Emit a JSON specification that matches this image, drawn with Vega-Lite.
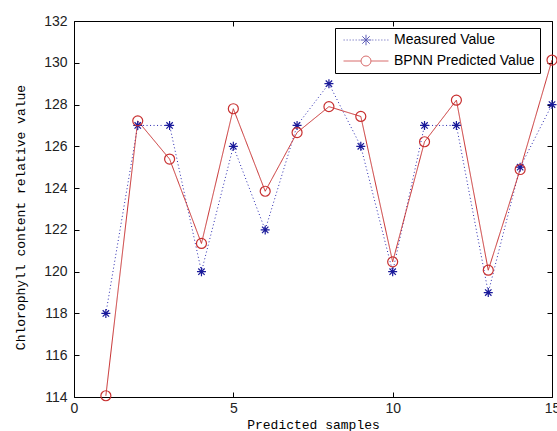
{
  "$schema": "https://vega.github.io/schema/vega-lite/v6.json",
  "width": 478,
  "height": 376,
  "autosize": {"type": "none"},
  "padding": {"left": 74, "top": 21, "right": 5, "bottom": 34},
  "background": "white",
  "config": {
    "view": {"stroke": "black", "strokeWidth": 1},
    "axis": {
      "grid": false,
      "domain": false,
      "ticks": true,
      "tickColor": "black",
      "tickWidth": 1,
      "tickSize": -5,
      "labelFont": "Liberation Sans",
      "labelFontSize": 14,
      "labelColor": "#222222",
      "labelFlush": false,
      "labelOverlap": false,
      "titleFont": "Liberation Mono",
      "titleFontSize": 13,
      "titleFontWeight": "normal",
      "titleColor": "black"
    },
    "legend": {
      "orient": "none",
      "legendX": 261,
      "legendY": 7,
      "padding": 4.5,
      "strokeColor": "black",
      "fillColor": "white",
      "cornerRadius": 0,
      "symbolSize": 196,
      "symbolStrokeWidth": 1,
      "symbolOffset": 19,
      "labelOffset": 20.5,
      "rowPadding": 6,
      "labelFont": "Liberation Sans",
      "labelFontSize": 14,
      "labelColor": "black",
      "labelLimit": 300
    }
  },
  "data": {
    "values": [
      {"sample": 1, "series": "Measured Value", "value": 118},
      {"sample": 2, "series": "Measured Value", "value": 127},
      {"sample": 3, "series": "Measured Value", "value": 127},
      {"sample": 4, "series": "Measured Value", "value": 120},
      {"sample": 5, "series": "Measured Value", "value": 126},
      {"sample": 6, "series": "Measured Value", "value": 122},
      {"sample": 7, "series": "Measured Value", "value": 127},
      {"sample": 8, "series": "Measured Value", "value": 129},
      {"sample": 9, "series": "Measured Value", "value": 126},
      {"sample": 10, "series": "Measured Value", "value": 120},
      {"sample": 11, "series": "Measured Value", "value": 127},
      {"sample": 12, "series": "Measured Value", "value": 127},
      {"sample": 13, "series": "Measured Value", "value": 119},
      {"sample": 14, "series": "Measured Value", "value": 125},
      {"sample": 15, "series": "Measured Value", "value": 128},
      {"sample": 1, "series": "BPNN Predicted Value", "value": 114.06},
      {"sample": 2, "series": "BPNN Predicted Value", "value": 127.22},
      {"sample": 3, "series": "BPNN Predicted Value", "value": 125.39},
      {"sample": 4, "series": "BPNN Predicted Value", "value": 121.35},
      {"sample": 5, "series": "BPNN Predicted Value", "value": 127.8},
      {"sample": 6, "series": "BPNN Predicted Value", "value": 123.85},
      {"sample": 7, "series": "BPNN Predicted Value", "value": 126.66},
      {"sample": 8, "series": "BPNN Predicted Value", "value": 127.9},
      {"sample": 9, "series": "BPNN Predicted Value", "value": 127.43},
      {"sample": 10, "series": "BPNN Predicted Value", "value": 120.47},
      {"sample": 11, "series": "BPNN Predicted Value", "value": 126.22},
      {"sample": 12, "series": "BPNN Predicted Value", "value": 128.21},
      {"sample": 13, "series": "BPNN Predicted Value", "value": 120.07},
      {"sample": 14, "series": "BPNN Predicted Value", "value": 124.89},
      {"sample": 15, "series": "BPNN Predicted Value", "value": 130.13}
    ]
  },
  "layer": [
    {
      "mark": {"type": "line", "strokeWidth": 1},
      "encoding": {
        "x": {"field": "sample", "type": "quantitative", "scale": {"domain": [0, 15], "nice": false, "zero": false}, "axis": null},
        "y": {"field": "value", "type": "quantitative", "scale": {"domain": [114, 132], "nice": false, "zero": false}, "axis": null},
        "detail": {"field": "series", "type": "nominal"},
        "color": {"condition": {"test": "datum.series === 'Measured Value'", "value": "#2a2ab0"}, "value": "#c83030"},
        "strokeDash": {"condition": {"test": "datum.series === 'Measured Value'", "value": [1, 2.5]}, "value": [1, 0]}
      }
    },
    {
      "mark": {"type": "point", "filled": false, "size": 100, "strokeWidth": 1.2, "opacity": 1},
      "encoding": {
        "x": {"field": "sample", "type": "quantitative", "axis": {"orient": "bottom", "values": [0, 5, 10, 15], "title": "Predicted samples", "labelPadding": 9, "titleBaseline": "alphabetic", "titleY": 31}},
        "y": {"field": "value", "type": "quantitative", "axis": {"orient": "left", "values": [114, 116, 118, 120, 122, 124, 126, 128, 130, 132], "title": "Chlorophyll content relative value", "labelPadding": 12, "titleX": -54, "titleY": 196, "titleAngle": -90, "titleAlign": "center", "titleBaseline": "middle"}},
        "color": {"condition": {"test": "datum.series === 'Measured Value'", "value": "#1a1a9a"}, "value": "#c83030"},
        "shape": {"condition": {"test": "datum.series === 'Measured Value'", "value": "M0,-0.9V0.9M-0.9,0H0.9M-0.64,-0.64L0.64,0.64M-0.64,0.64L0.64,-0.64"}, "value": "circle"}
      }
    },
    {
      "transform": [{"filter": "false"}],
      "mark": {"type": "point", "filled": false},
      "encoding": {
        "x": {"field": "sample", "type": "quantitative", "axis": null},
        "y": {"field": "value", "type": "quantitative", "axis": null},
        "shape": {
          "field": "series",
          "type": "nominal",
          "scale": {"domain": ["Measured Value", "BPNN Predicted Value"], "range": ["M-3.2,0h0.15M-2.77,0h0.15M-2.34,0h0.15M-1.91,0h0.15M-1.48,0h0.15M-1.05,0h0.15M0.9,0h0.15M1.33,0h0.15M1.76,0h0.15M2.19,0h0.15M2.62,0h0.15M3.05,0h0.15M0,-0.75V0.75M-0.75,0H0.75M-0.53,-0.53L0.53,0.53M-0.53,0.53L0.53,-0.53", "M-3.21,0H-0.71M0.71,0H3.21M-0.71,0A0.71,0.71 0 1,0 0.71,0A0.71,0.71 0 1,0 -0.71,0"]},
          "legend": {"title": null}
        },
        "color": {
          "field": "series",
          "type": "nominal",
          "scale": {"domain": ["Measured Value", "BPNN Predicted Value"], "range": ["#1a1a9a", "#c83030"]},
          "legend": {"title": null}
        }
      }
    },
    {
      "mark": {"type": "point", "opacity": 0},
      "encoding": {
        "x": {"field": "sample", "type": "quantitative", "axis": {"orient": "top", "values": [0, 5, 10, 15], "labels": false, "title": null}},
        "y": {"field": "value", "type": "quantitative", "axis": {"orient": "right", "values": [114, 116, 118, 120, 122, 124, 126, 128, 130, 132], "labels": false, "title": null}}
      }
    }
  ],
  "resolve": {"axis": {"x": "independent", "y": "independent"}}
}
